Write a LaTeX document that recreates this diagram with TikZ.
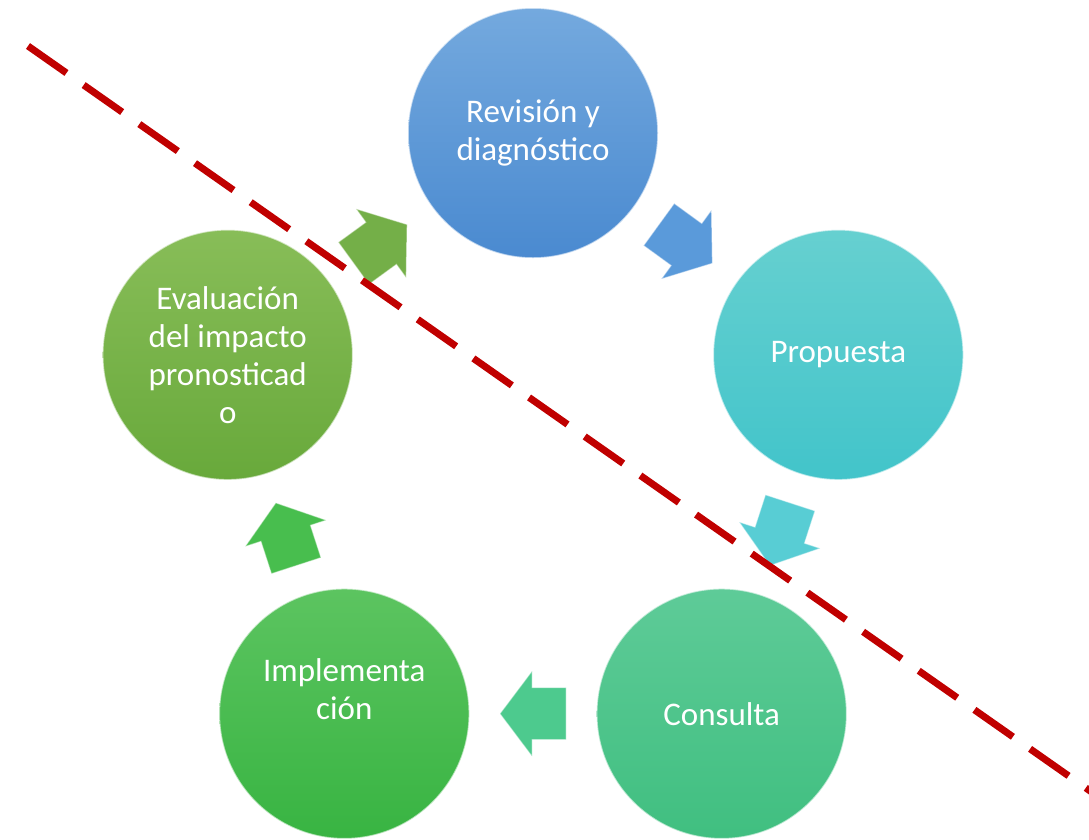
\documentclass[tikz,border=0pt]{standalone}
\usepackage{fontspec}
\setmainfont{Carlito}
\usetikzlibrary{calc}
\definecolor{revTop}{HTML}{74A9DE}
\definecolor{revBot}{HTML}{4A8AD0}
\definecolor{propTop}{HTML}{66D0D0}
\definecolor{propBot}{HTML}{42C4CA}
\definecolor{consTop}{HTML}{5ECB98}
\definecolor{consBot}{HTML}{40BF80}
\definecolor{implTop}{HTML}{5CC460}
\definecolor{implBot}{HTML}{38B442}
\definecolor{evalTop}{HTML}{88BD58}
\definecolor{evalBot}{HTML}{68A93B}
\definecolor{arA}{HTML}{74AF48}
\definecolor{arB}{HTML}{5A9ADA}
\definecolor{arC}{HTML}{58CDD4}
\definecolor{arD}{HTML}{4DCA8E}
\definecolor{arE}{HTML}{48BE4E}
\definecolor{dashred}{RGB}{192,0,0}
\tikzset{
  ball/.style={circle, minimum size=250pt, inner sep=0pt, draw=white, draw opacity=0.6,
    line width=1.5pt, text=white, font=\fontsize{33}{38}\selectfont, align=center},
  txt/.style={text=white, font=\fontsize{33}{38}\selectfont, align=center, inner sep=0pt},
  pics/blockarrow/.style={code={
    \path[pic actions] (-33,-26) -- (1,-26) -- (1,-42.5) -- (33,0) -- (1,42.5) -- (1,26) -- (-33,26) -- cycle;
  }},
  barrow/.style={draw=white, draw opacity=0.45, line width=1pt, line join=miter},
  divider/.style={draw=dashred, line width=7pt, dash pattern=on 47pt off 21pt}
}
\begin{document}
\begin{tikzpicture}[x=1pt,y=-1pt]
\useasboundingbox (0,0) rectangle (1089,839);
\fill[white] (0,0) rectangle (1089,839);
% circles
\node[ball, top color=revTop, bottom color=revBot] (rev) at (533,133) {Revisión y\\diagnóstico};
\node[ball, top color=propTop, bottom color=propBot] (prop) at (838.3,354.8) {Propuesta};
\node[ball, top color=consTop, bottom color=consBot] (cons) at (721.7,713.7) {Consulta};
\node[ball, top color=implTop, bottom color=implBot] (impl) at (344.3,713.7) {};
\node[txt] (impltext) at ([yshift=25pt]impl.center) {Implementa\\ción};
\node[ball, top color=evalTop, bottom color=evalBot] (eval) at (227.7,354.8) {Evaluación\\del impacto\\pronosticad\\o};
% block arrows at midpoints
\coordinate (m1) at ($(eval)!0.5!(rev)$);
\coordinate (m2) at ($(rev)!0.5!(prop)$);
\coordinate (m3) at ($(prop)!0.5!(cons)$);
\coordinate (m4) at ($(cons)!0.5!(impl)$);
\coordinate (m5) at ($(impl)!0.5!(eval)$);
\pic[rotate=36, fill=arA, barrow] at (m1) {blockarrow};
\pic[rotate=-36, fill=arB, barrow] at (m2) {blockarrow};
\pic[rotate=-108, fill=arC, barrow] at (m3) {blockarrow};
\pic[rotate=180, fill=arD, barrow] at (m4) {blockarrow};
\pic[rotate=108, fill=arE, barrow] at (m5) {blockarrow};
% dashed divider
\coordinate (d1) at (28,46);
\coordinate (d2) at (1100,797.9);
\begin{scope}
\clip (0,0) rectangle (1089,839);
\draw[divider] (d1) -- (d2);
\end{scope}
\end{tikzpicture}
\end{document}
